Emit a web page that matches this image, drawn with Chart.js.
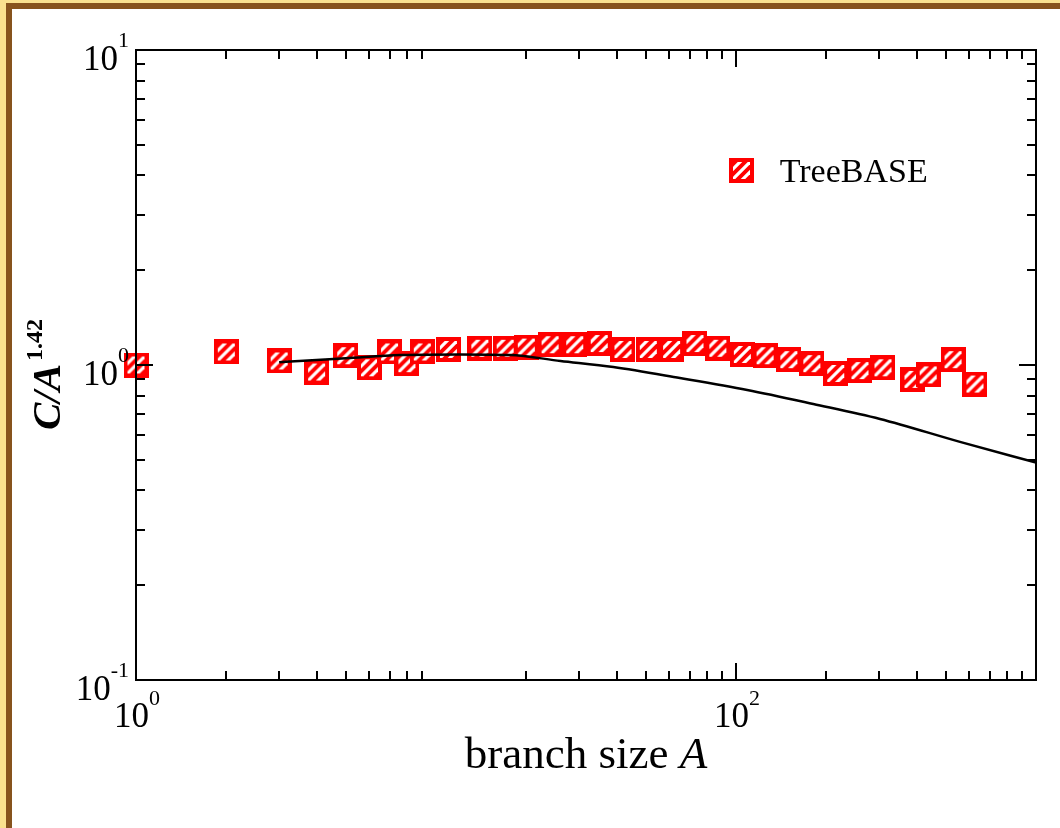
<!DOCTYPE html>
<html>
<head>
<meta charset="utf-8">
<script src="https://cdn.jsdelivr.net/npm/chart.js@4.4.0/dist/chart.umd.min.js"></script>
<style>
  html, body { margin: 0; padding: 0; background: #fae18f; }
  body { width: 1060px; height: 828px; position: relative; overflow: hidden; }
  .frame {
    position: absolute; left: 6px; top: 3px; width: 1054px; height: 825px;
    box-sizing: border-box; background: #fff;
    border-left: 6px solid #87531d; border-top: 6px solid #87531d;
  }
  #chart { position: absolute; left: 0; top: 0; }
</style>
</head>
<body>
<div class="frame"></div>
<canvas id="chart" width="1060" height="828"></canvas>
<script>
// TreeBASE binned data (branch size A vs C/A^1.42)
const branchSize = [1, 2, 3, 4, 5, 6, 7, 8, 9, 11, 14, 17, 20, 24, 29, 35, 42, 51, 61, 73, 87, 105, 125, 150, 179, 215, 259, 309, 389, 437, 529, 626];
const treebase = [1.00, 1.10, 1.03, 0.95, 1.07, 0.98, 1.10, 1.01, 1.10, 1.12, 1.13, 1.13, 1.14, 1.16, 1.16, 1.17, 1.12, 1.12, 1.12, 1.17, 1.13, 1.08, 1.07, 1.04, 1.01, 0.94, 0.96, 0.98, 0.90, 0.93, 1.04, 0.87];

// model curve (black line)
const modelSize = [3, 3.5, 5, 7.6, 12, 17.6, 26, 39, 65, 109, 181, 302, 558, 1000];
const modelValue = [1.02, 1.03, 1.05, 1.076, 1.08, 1.076, 1.03, 0.985, 0.909, 0.833, 0.752, 0.674, 0.57, 0.49];

// axis ticks and labels (base, exponent)
const xMajor = [1, 100];
const xTickLabels = [['10', '0'], ['10', '2']];
const yMajor = [0.1, 1, 10];
const yTickLabels = [['10', '-1'], ['10', '0'], ['10', '1']];
const xRange = [1, 1000];
const yRange = [0.1, 10];

const SERIF = '"Liberation Serif", "Times New Roman", serif';

// red square with white "/" hatching
function makeHatch(size) {
    const c = document.createElement('canvas');
    c.width = size; c.height = size;
    const g = c.getContext('2d');
    g.fillStyle = '#ff0000';
    g.fillRect(0, 0, size, size);
    const inset = 4;
    g.save();
    g.beginPath();
    g.rect(inset, inset, size - 2 * inset, size - 2 * inset);
    g.clip();
    g.strokeStyle = '#fff';
    g.lineWidth = 3.2;
    [15, 25, 35].forEach(k => {
        g.beginPath();
        g.moveTo(k - size, size);
        g.lineTo(k, 0);
        g.stroke();
    });
    g.restore();
    return c;
}
const hatch = makeHatch(25);

function minorTicks(lo, hi) {
    const out = [];
    for (let d = lo; d < hi; d *= 10) {
        for (let m = 2; m <= 9; m++) out.push(d * m);
    }
    return out;
}

function drawPowerLabel(ctx, base, exp, cx, baseY, expY, align) {
    ctx.font = '35px ' + SERIF;
    const wb = ctx.measureText(base).width;
    ctx.font = '22px ' + SERIF;
    const we = ctx.measureText(exp).width;
    let left = align === 'right' ? cx - wb - we : cx - (wb + we) / 2;
    ctx.textAlign = 'left';
    ctx.textBaseline = 'alphabetic';
    ctx.font = '35px ' + SERIF;
    ctx.fillText(base, left, baseY);
    ctx.font = '22px ' + SERIF;
    ctx.fillText(exp, left + wb, expY);
}

const axisPlugin = {
    id: 'axisFrame',
    afterDatasetsDraw(chart) {
        const { ctx, chartArea: a, scales: { x, y } } = chart;
        ctx.save();
        ctx.strokeStyle = '#000';
        ctx.fillStyle = '#000';
        ctx.lineWidth = 2;
        ctx.strokeRect(Math.round(a.left), Math.round(a.top), Math.round(a.right - a.left), Math.round(a.bottom - a.top));

        const tick = (x1, y1, x2, y2) => {
            ctx.beginPath(); ctx.moveTo(x1, y1); ctx.lineTo(x2, y2); ctx.stroke();
        };
        // x ticks, bottom and top, pointing inwards
        minorTicks(xRange[0], xRange[1]).forEach(v => {
            const p = Math.round(x.getPixelForValue(v));
            tick(p, a.bottom, p, a.bottom - 9);
            tick(p, a.top, p, a.top + 9);
        });
        xMajor.forEach(v => {
            const p = Math.round(x.getPixelForValue(v));
            tick(p, a.bottom, p, a.bottom - 17);
            tick(p, a.top, p, a.top + 17);
        });
        // y ticks, left and right
        minorTicks(yRange[0], yRange[1]).forEach(v => {
            const p = Math.round(y.getPixelForValue(v));
            tick(a.left, p, a.left + 9, p);
            tick(a.right, p, a.right - 9, p);
        });
        yMajor.forEach(v => {
            const p = Math.round(y.getPixelForValue(v));
            tick(a.left, p, a.left + 17, p);
            tick(a.right, p, a.right - 17, p);
        });

        // tick labels
        xMajor.forEach((v, i) => {
            const p = x.getPixelForValue(v);
            drawPowerLabel(ctx, xTickLabels[i][0], xTickLabels[i][1], p + 1, a.bottom + 47, a.bottom + 25, 'center');
        });
        yMajor.forEach((v, i) => {
            const p = y.getPixelForValue(v);
            drawPowerLabel(ctx, yTickLabels[i][0], yTickLabels[i][1], a.left - 7, p + 20, p - 3, 'right');
        });

        // x title
        const cx = (a.left + a.right) / 2;
        ctx.font = '45px ' + SERIF;
        const t1 = 'branch size ';
        const w1 = ctx.measureText(t1).width;
        ctx.font = 'italic 45px ' + SERIF;
        const w2 = ctx.measureText('A').width;
        const sx = cx - (w1 + w2) / 2;
        ctx.textAlign = 'left';
        ctx.font = '45px ' + SERIF;
        ctx.fillText(t1, sx, a.bottom + 88);
        ctx.font = 'italic 45px ' + SERIF;
        ctx.fillText('A', sx + w1, a.bottom + 88);

        // y title, rotated
        ctx.save();
        ctx.translate(a.left - 76, y.getPixelForValue(1));
        ctx.rotate(-Math.PI / 2);
        ctx.font = 'italic bold 41px ' + SERIF;
        const wc = ctx.measureText('C/A').width;
        const start = -65;
        ctx.fillText('C/A', start, 0);
        ctx.font = 'bold 24px ' + SERIF;
        ctx.fillText('1.42', start + wc + 3, -18);
        ctx.restore();

        // legend
        const lx = a.left + 0.673 * (a.right - a.left);
        const ly = a.top + 0.192 * (a.bottom - a.top);
        ctx.drawImage(hatch, Math.round(lx - 12.5), Math.round(ly - 12.5));
        ctx.font = '34px ' + SERIF;
        ctx.textBaseline = 'alphabetic';
        ctx.fillText('TreeBASE', lx + 38, ly + 11);
        ctx.restore();
    }
};

new Chart(document.getElementById('chart'), {
    type: 'scatter',
    data: {
        datasets: [
            {
                label: 'model',
                type: 'line',
                data: modelSize.map((v, i) => ({ x: v, y: modelValue[i] })),
                borderColor: '#000',
                borderWidth: 2.5,
                pointRadius: 0,
                cubicInterpolationMode: 'monotone',
                fill: false,
                order: 0
            },
            {
                label: 'TreeBASE',
                data: branchSize.map((v, i) => ({ x: v, y: treebase[i] })),
                pointStyle: hatch,
                pointRadius: 12,
                clip: false,
                order: 1
            }
        ]
    },
    options: {
        responsive: false,
        animation: false,
        devicePixelRatio: 1,
        layout: { padding: { left: 136, top: 50, right: 24, bottom: 148 } },
        plugins: { legend: { display: false }, tooltip: { enabled: false } },
        scales: {
            x: { type: 'logarithmic', min: xRange[0], max: xRange[1], display: false },
            y: { type: 'logarithmic', min: yRange[0], max: yRange[1], display: false }
        }
    },
    plugins: [axisPlugin]
});
</script>
</body>
</html>
